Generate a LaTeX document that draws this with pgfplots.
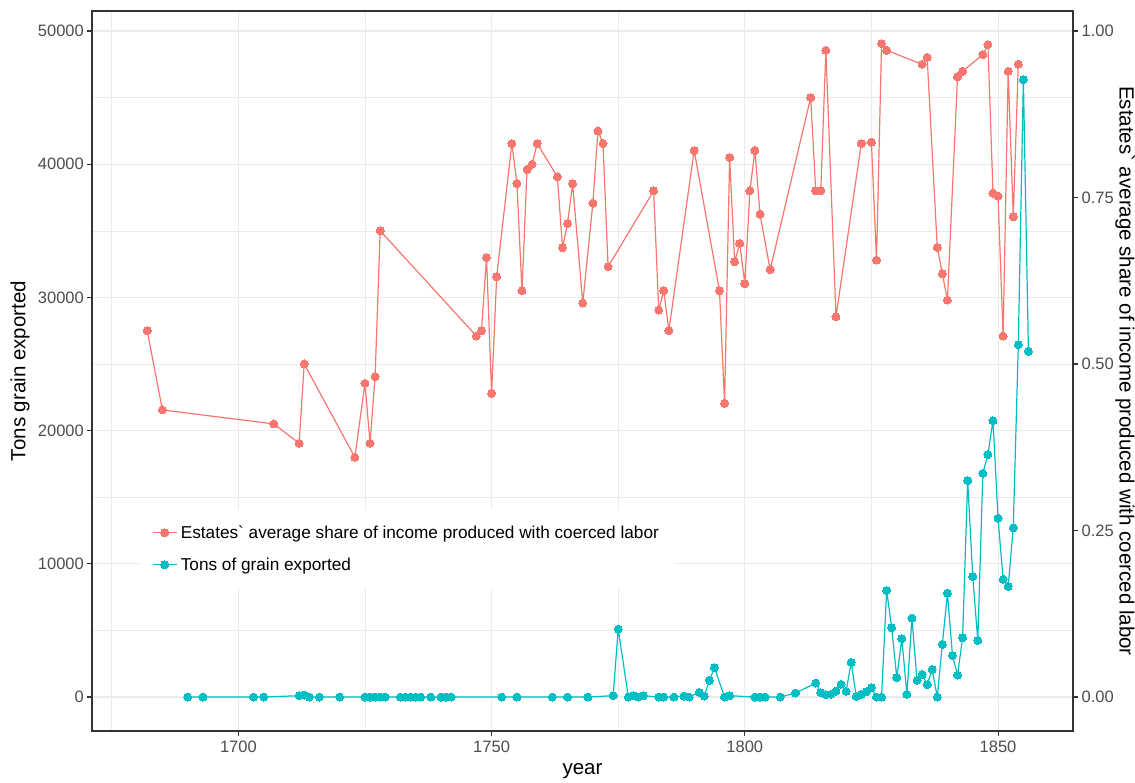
\documentclass[border=0pt]{standalone}
\usepackage{fontspec}
\setmainfont{Liberation Sans}[Ligatures=TeXOff]
\usepackage{pgfplots}
\usepackage{pgfplotstable}
\pgfplotsset{compat=1.18}
\definecolor{cred}{HTML}{F8766D}
\definecolor{ccyan}{HTML}{00BFC4}
\definecolor{grid92}{HTML}{EBEBEB}
\definecolor{grey20}{HTML}{333333}
\definecolor{grey30}{HTML}{4D4D4D}

\pgfplotstableread{
year value
1682 27500
1685 21550
1707 20500
1712 19050
1713 25000
1723 18000
1725 23550
1726 19050
1727 24050
1728 35000
1747 27100
1748 27500
1749 33000
1750 22800
1751 31550
1754 41550
1755 38550
1756 30500
1757 39600
1758 40000
1759 41550
1763 39050
1764 33725
1765 35550
1766 38525
1768 29575
1770 37075
1771 42500
1772 41550
1773 32300
1782 38000
1783 29050
1784 30500
1785 27500
1790 41025
1795 30500
1796 22050
1797 40500
1798 32675
1799 34050
1800 31025
1801 38000
1802 41025
1803 36250
1805 32075
1813 45000
1814 38000
1815 38000
1816 48550
1818 28550
1823 41550
1825 41650
1826 32800
1827 49050
1828 48550
1835 47500
1836 48025
1838 33750
1839 31775
1840 29800
1842 46550
1843 46975
1847 48225
1848 48975
1849 37825
1850 37600
1851 27100
1852 46975
1853 36050
1854 47500
}\redtab

\pgfplotstableread{
year value
1690 0
1693 0
1703 0
1705 0
1712 100
1713 150
1714 0
1716 0
1720 0
1725 0
1726 0
1727 0
1728 0
1729 0
1732 0
1733 0
1734 0
1735 0
1736 0
1738 0
1740 0
1741 0
1742 0
1752 0
1755 0
1762 0
1765 0
1769 0
1774 100
1775 5100
1777 0
1778 100
1779 0
1780 100
1783 0
1784 0
1786 0
1788 75
1789 0
1791 350
1792 75
1793 1250
1794 2200
1796 0
1797 100
1802 0
1803 0
1804 0
1807 0
1810 300
1814 1050
1815 325
1816 175
1817 200
1818 450
1819 950
1820 425
1821 2600
1822 50
1823 200
1824 400
1825 700
1826 0
1827 0
1828 8000
1829 5200
1830 1450
1831 4375
1832 200
1833 5925
1834 1250
1835 1700
1836 925
1837 2075
1838 0
1839 3950
1840 7800
1841 3125
1842 1650
1843 4450
1844 16250
1845 9050
1846 4250
1847 16800
1848 18200
1849 20750
1850 13425
1851 8850
1852 8300
1853 12700
1854 26450
1855 46350
1856 25950
}\cyantab

\begin{document}
\begin{tikzpicture}
\begin{axis}[
  at={(0pt,0pt)}, anchor=south west,
  scale only axis, width=981pt, height=720pt,
  xmin=1671.1, xmax=1864.8, ymin=-2550, ymax=51500,
  xtick={1700,1750,1800,1850}, minor xtick={1675,1725,1775,1825},
  ytick={0,10000,20000,30000,40000,50000},
  minor ytick={5000,15000,25000,35000,45000},
  grid=both,
  major grid style={draw=grid92, line width=1.1pt},
  minor grid style={draw=grid92, line width=0.55pt},
  axis line style={draw=grey20, line width=1.1pt},
  major tick style={draw=grey20, line width=1.1pt},
  major tick length=5pt, minor tick length=0pt, tick align=outside,
  tick pos=left,
  scaled ticks=false,
  /pgf/number format/1000 sep={},
  /pgf/number format/assume math mode=true,
  ticklabel style={font=\fontsize{16.5}{19}\selectfont, text=grey30},
  yticklabel style={inner xsep=3pt},
  xticklabel style={inner ysep=4.5pt},
  xlabel={year}, ylabel={Tons grain exported},
  label style={font=\fontsize{20.5}{24}\selectfont, text=black},
  xlabel style={at={(axis description cs:0.5,-0.0556)}, anchor=center},
  ylabel style={at={(axis description cs:-0.0734,0.5)}, anchor=center},
  legend cell align=left,
  legend style={at={(rel axis cs:0.0489,0.1986)}, anchor=south west,
    draw=none, fill=white, inner xsep=12pt, inner ysep=14pt,
    font=\fontsize{17.2}{20}\selectfont, row sep=14pt,
    nodes={inner xsep=3.5pt, inner ysep=2pt}},
  legend image code/.code={%
    \draw[mark repeat=2,mark phase=2,#1] plot coordinates {(0pt,0pt) (12pt,0pt) (24pt,0pt)};},
]
\addplot[cred, line width=1.2pt, mark=*, mark size=4pt, mark options={solid, fill=cred, draw=cred, line width=0pt}]
  table[x=year, y=value] {\redtab};
\addlegendentry{Estates` average share of income produced with coerced labor}
\addplot[ccyan, line width=1.2pt, mark=*, mark size=4pt, mark options={solid, fill=ccyan, draw=ccyan, line width=0pt}]
  table[x=year, y=value] {\cyantab};
\addlegendentry{Tons of grain exported}
\end{axis}
\begin{axis}[
  at={(0pt,0pt)}, anchor=south west,
  scale only axis, width=981pt, height=720pt,
  xmin=1671.1, xmax=1864.8, ymin=-0.051, ymax=1.03,
  axis x line=none, axis y line*=right,
  ytick={0,0.25,0.5,0.75,1},
  axis line style={draw=grey20, line width=1.1pt},
  major tick style={draw=grey20, line width=1.1pt},
  major tick length=5pt, tick align=outside,
  /pgf/number format/.cd, fixed, fixed zerofill, precision=2, assume math mode=true,
  /pgfplots/.cd,
  ticklabel style={font=\fontsize{16.5}{19}\selectfont, text=grey30},
  yticklabel style={inner xsep=3.5pt},
  ylabel={Estates` average share of income produced with coerced labor},
  ylabel style={font=\fontsize{20.5}{24}\selectfont, text=black,
    at={(axis description cs:1.053,0.5)}, anchor=center, rotate=180},
]
\addplot[draw=none] coordinates {(1700,0.5)};
\end{axis}
\pgfresetboundingbox
\useasboundingbox (-92pt,-52pt) rectangle (1043pt,731pt);
\end{tikzpicture}
\end{document}
